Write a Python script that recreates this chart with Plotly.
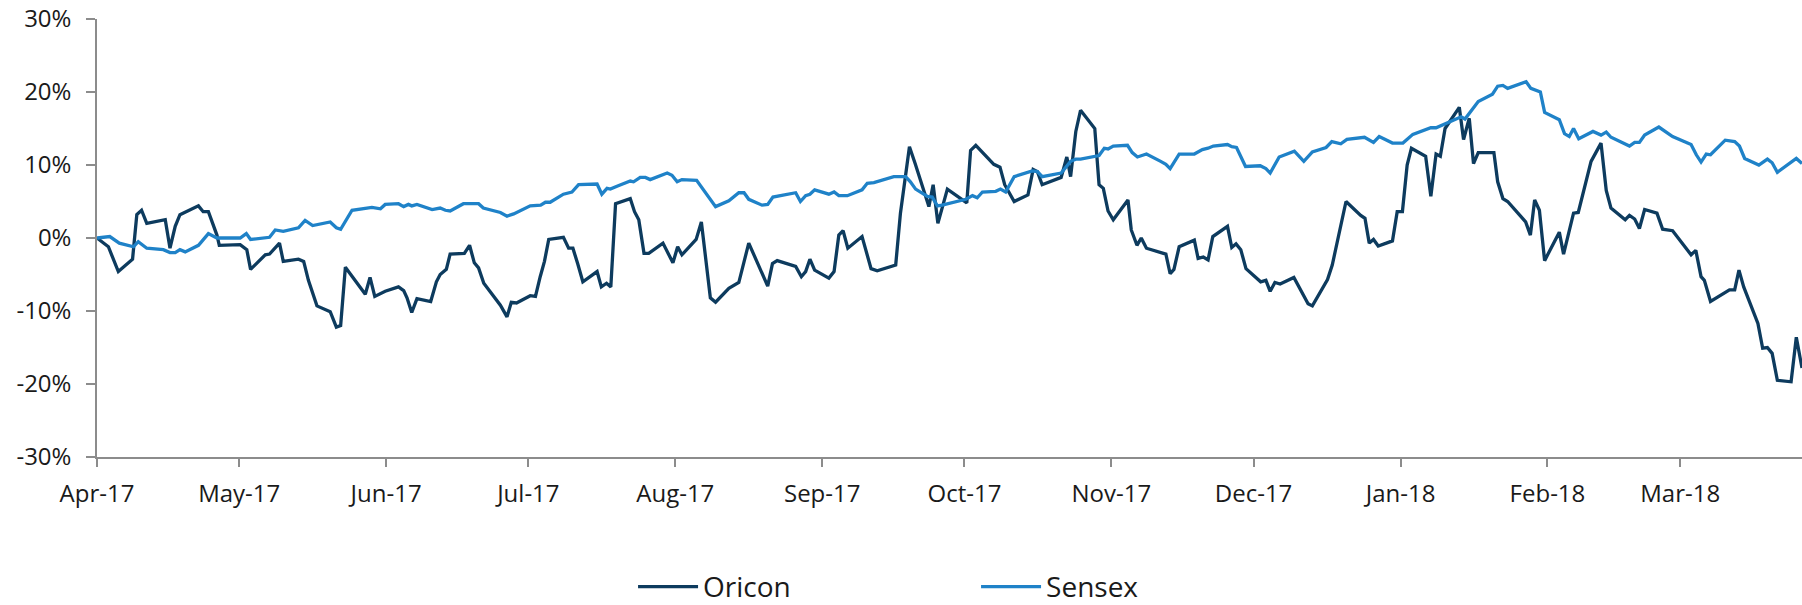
import plotly.graph_objects as go
import pandas as pd

START_DATE = "2017-04-01"

# days after 1 Apr 2017 and % return
oricon_day = [0, 2.4, 4.5, 7.5, 8.4, 9.4, 10.5, 14.4, 15.4, 16.5, 17.5, 21.4, 22.4, 23.5, 25.3, 25.8,
              30.2, 31.6, 32.4, 35.5, 36.4, 38.5, 39.3, 42.5, 43.6, 44.6, 46.4, 49.2, 50.5, 51.4, 52.4,
              56.6, 57.6, 58.6, 60.8, 63.6, 64.7, 65.4, 66.4, 67.5, 70.4, 71.6, 72.4, 73.7, 74.5, 77.5,
              78.6, 79.6, 80.5, 81.6, 85.1, 86.5, 87.4, 88.5, 91.4, 92.5, 93.5, 94.4, 95.3, 98.4, 99.5,
              100.4, 101.4, 102.5, 105.5, 106.4, 107.5, 108.4, 109.4, 112.5, 113.4, 114.3, 115.4, 116.4,
              119.4, 121.5, 122.5, 123.4, 126.4, 127.5, 129.4, 130.5, 133.3, 135.4, 137.5, 141.5, 142.5,
              143.5, 147.4, 148.6, 149.5, 150.4, 151.4, 154.4, 155.5, 156.5, 157.4, 158.4, 161.4, 163.3,
              164.6, 168.5, 169.5, 171.4, 172.6, 175.5, 176.4, 177.4, 179.4, 183.5, 184.3, 185.4, 189.2,
              190.5, 191.5, 193.5, 196.4, 197.5, 198.4, 199.4, 203.4, 204.6, 205.4, 206.5, 207.5, 210.5,
              211.4, 212.3, 213.3, 214.4, 217.5, 218.2, 219.4, 220.3, 221.4, 224.1, 225.5, 226.4, 227.2,
              228.3, 231.5, 232.3, 233.4, 234.4, 235.4, 238.5, 239.4, 240.3, 241.3, 242.4, 245.5, 246.6,
              247.5, 248.5, 249.6, 252.5, 253.9, 255.5, 256.4, 259.6, 260.6, 261.4, 262.4, 263.5, 266.6,
              267.5, 268.4, 269.3, 270.3, 273.3, 274.3, 275.4, 276.4, 277.3, 280.3, 281.4, 282.5, 283.4,
              284.4, 287.4, 288.3, 289.5, 290.4, 291.4, 294.7, 295.5, 296.6, 297.6, 301.4, 302.4, 303.3,
              304.3, 305.4, 308.5, 309.4, 311.5, 312.5, 315.2, 317.3, 318.4, 319.4, 322.4, 323.3, 324.4,
              325.4, 326.5, 329.1, 330.3, 332.4, 336.3, 337.3, 338.4, 339.1, 340.4, 344.4, 345.5, 346.4,
              347.4, 350.4, 351.4, 352.4, 353.4, 354.5, 357.4, 358.5, 359.7]
oricon_pct = [0.0, -1.2, -4.6, -2.9, 3.2, 3.8, 2.0, 2.5, -1.4, 1.6, 3.2, 4.4, 3.6, 3.6, 0.4, -1.0,
              -0.9, -1.6, -4.3, -2.3, -2.2, -0.7, -3.2, -2.9, -3.2, -5.8, -9.3, -10.1, -12.2, -12.0, -4.0,
              -7.7, -5.4, -8.0, -7.3, -6.7, -7.2, -8.2, -10.2, -8.3, -8.7, -6.0, -5.0, -4.3, -2.2, -2.1,
              -1.0, -3.4, -4.1, -6.2, -9.2, -10.8, -8.8, -8.9, -7.9, -8.0, -5.3, -3.2, -0.2, 0.1, -1.4,
              -1.4, -3.5, -6.0, -4.6, -6.7, -6.2, -6.7, 4.7, 5.4, 3.6, 2.5, -2.1, -2.1,
              -0.7, -3.4, -1.2, -2.3, -0.2, 2.2, -8.2, -8.8, -6.9, -6.1, -0.7, -6.6, -3.5,
              -3.1, -3.9, -5.3, -4.6, -2.9, -4.4, -5.5, -4.6, 0.4, 1.0, -1.4, 0.2, -4.2,
              -4.5, -3.7, 3.4, 12.5, 10.2, 4.3, 7.3, 2.0, 6.7, 4.8, 12.0, 12.7, 10.1,
              9.7, 7.3, 5.0, 5.9, 9.4, 9.1, 7.3, 8.3, 11.1, 8.4, 14.6, 17.5, 15.0,
              7.3, 6.8, 3.7, 2.5, 5.2, 1.1, -1.0, 0.0, -1.4, -2.0, -2.2, -4.9, -4.3,
              -1.2, -0.3, -2.8, -2.6, -3.0, 0.2, 1.6, -1.3, -0.8, -1.6, -4.2, -6.0, -5.8,
              -7.3, -6.1, -6.3, -5.4, -7.1, -9.0, -9.3, -5.7, -3.7, -1.2, 1.6, 5.0, 3.1,
              2.7, -0.7, -0.2, -1.1, -0.4, 3.6, 3.6, 10.0, 12.3, 11.2, 5.7, 11.5, 11.2,
              15.0, 17.9, 13.5, 16.4, 10.2, 11.7, 11.7, 7.7, 5.4, 5.0, 2.2, 0.4, 5.2,
              3.8, -3.1, 0.8, -2.2, 3.4, 3.5, 10.5, 13.0, 6.5, 4.1, 2.5, 3.1, 2.6,
              1.3, 3.9, 3.4, 1.2, 1.0, -2.3, -1.7, -5.3, -5.8, -8.7, -7.1, -7.1, -4.4,
              -6.7, -11.7, -15.1, -15.0, -15.8, -19.5, -19.7, -13.6, -17.8]

sensex_day = [0, 2.7, 4.7, 7.7, 8.7, 10.5, 14.0, 15.4, 16.5, 17.5, 18.6, 21.4, 23.5, 25.3, 30.2, 31.5,
              32.4, 36.4, 37.6, 38.6, 39.3, 42.5, 43.9, 45.5, 49.2, 50.5, 51.4, 53.8, 57.0, 58.0, 59.8,
              60.8, 63.6, 64.7, 65.7, 66.4, 67.5, 70.7, 72.4, 73.5, 74.5, 77.3, 80.5, 81.5, 85.1, 86.5,
              87.9, 91.4, 93.6, 94.6, 95.6, 98.4, 100.2, 101.6, 105.5, 106.5, 107.6, 108.3, 109.7, 112.5,
              113.2, 114.6, 115.7, 116.7, 120.3, 121.3, 122.4, 123.4, 126.5, 128.7, 130.5, 133.3, 135.4,
              136.5, 137.5, 140.3, 141.5, 142.6, 147.4, 148.4, 149.5, 150.4, 151.4, 154.4, 155.5, 156.5,
              158.3, 161.4, 162.5, 163.9, 168.1, 170.6, 171.6, 172.7, 175.2, 176.2, 177.3, 178.3, 183.3,
              184.7, 185.7, 186.8, 189.6, 190.6, 191.7, 193.5, 197.3, 198.4, 199.4, 203.4, 205.4, 206.5,
              207.5, 211.4, 212.5, 213.3, 214.4, 217.4, 218.4, 219.5, 221.4, 224.4, 225.5, 226.4, 228.3,
              231.5, 233.2, 234.4, 235.5, 238.5, 239.4, 240.4, 242.3, 245.4, 246.6, 247.5, 249.4, 252.6,
              254.6, 256.4, 259.3, 260.5, 262.4, 263.7, 267.4, 269.3, 270.5, 273.3, 275.5, 277.6, 281.4,
              282.5, 285.0, 287.8, 288.6, 289.5, 291.4, 294.4, 295.5, 296.6, 297.6, 301.5, 302.5, 304.5,
              305.4, 308.5, 309.6, 310.6, 311.5, 312.6, 315.6, 317.3, 318.4, 319.4, 323.3, 324.4, 325.4,
              326.5, 329.5, 332.4, 336.3, 337.4, 338.4, 339.5, 340.4, 343.5, 345.5, 346.5, 347.6, 350.6,
              352.4, 353.4, 354.5, 358.5, 359.7]
sensex_pct = [0.0, 0.2, -0.7, -1.2, -0.5, -1.4, -1.6, -2.0, -2.0, -1.6, -1.9, -1.0, 0.6, 0.0, 0.0, 0.6,
              -0.2, 0.1, 1.1, 1.0, 0.9, 1.4, 2.4, 1.7, 2.2, 1.4, 1.2, 3.8, 4.1, 4.2, 4.0,
              4.6, 4.7, 4.3, 4.6, 4.4, 4.6, 3.9, 4.1, 3.8, 3.7, 4.7, 4.7, 4.1, 3.5, 3.0,
              3.3, 4.4, 4.5, 4.9, 4.9, 6.0, 6.3, 7.3, 7.4, 6.0, 6.8, 6.7, 7.1, 7.8,
              7.7, 8.3, 8.3, 8.0, 8.9, 8.6, 7.7, 8.0, 7.9, 5.9, 4.3, 5.1, 6.2,
              6.2, 5.3, 4.5, 4.6, 5.6, 6.2, 5.0, 5.8, 6.0, 6.6, 6.0, 6.3, 5.8,
              5.8, 6.6, 7.5, 7.6, 8.4, 8.4, 7.7, 6.7, 5.7, 5.6, 4.4, 4.5, 5.3,
              5.8, 5.5, 6.3, 6.4, 6.7, 6.3, 8.4, 9.2, 9.1, 8.4, 8.9, 10.5, 10.8,
              10.8, 11.3, 12.3, 12.2, 12.6, 12.7, 11.7, 11.1, 11.5, 10.5, 10.1, 9.5, 11.5,
              11.5, 12.1, 12.3, 12.6, 12.8, 12.5, 12.4, 9.8, 9.9, 9.5, 8.9, 11.1, 11.9,
              10.5, 11.8, 12.4, 13.2, 12.9, 13.5, 13.8, 13.1, 13.9, 13.0, 13.0, 14.2, 15.1,
              15.1, 15.8, 16.6, 16.3, 17.1, 18.7, 19.7, 20.8, 20.9, 20.5, 21.4, 20.5, 20.0,
              17.2, 16.2, 14.3, 13.9, 15.0, 13.6, 14.6, 14.1, 14.5, 13.8, 12.6, 13.1, 13.1,
              14.1, 15.2, 13.9, 12.8, 11.4, 10.4, 11.5, 11.4, 13.4, 13.2, 12.6, 10.9, 10.0,
              10.8, 10.3, 9.0, 10.9, 10.2]

y_tick_vals = [-30, -20, -10, 0, 10, 20, 30]
y_tick_text = ["-30%", "-20%", "-10%", "0%", "10%", "20%", "30%"]

ORICON_COLOR = "#0D3B5E"
SENSEX_COLOR = "#1F82C8"
AXIS_COLOR = "#8C8C8C"
FONT = dict(family="Open Sans, Lato, sans-serif", size=24, color="#1A1A1A")


def to_dates(days):
    return pd.Timestamp(START_DATE) + pd.to_timedelta(days, unit="D")


oricon_x = to_dates(oricon_day)
sensex_x = to_dates(sensex_day)

fig = go.Figure()
fig.add_trace(go.Scatter(x=oricon_x, y=oricon_pct, name="Oricon", mode="lines",
                         line=dict(color=ORICON_COLOR, width=3.3)))
fig.add_trace(go.Scatter(x=sensex_x, y=sensex_pct, name="Sensex", mode="lines",
                         line=dict(color=SENSEX_COLOR, width=3.3)))

# figure is a bit taller than the window so the legend can sit near the bottom edge
fig.update_layout(
    width=1802,
    height=630,
    margin=dict(l=97, r=0, t=19, b=173),
    plot_bgcolor="white",
    paper_bgcolor="white",
    font=FONT,
    legend=dict(
        orientation="h",
        x=0.3144,
        xanchor="left",
        y=-0.2965,
        yanchor="middle",
        entrywidth=268,
        itemwidth=60,
        font=dict(size=28),
    ),
)
fig.update_xaxes(
    type="date",
    range=[pd.Timestamp(START_DATE), max(oricon_x[-1], sensex_x[-1])],
    tick0=START_DATE,
    dtick="M1",
    tickformat="%b-%y",
    showgrid=False,
    zeroline=False,
    showline=True,
    linecolor=AXIS_COLOR,
    linewidth=1.5,
    ticks="outside",
    ticklen=8,
    tickcolor=AXIS_COLOR,
    tickwidth=1.5,
    ticklabelstandoff=6,
    automargin=False,
)
fig.update_yaxes(
    range=[-30, 30],
    tickvals=y_tick_vals,
    ticktext=y_tick_text,
    showgrid=False,
    zeroline=False,
    showline=True,
    linecolor=AXIS_COLOR,
    linewidth=1.5,
    ticks="outside",
    ticklen=9,
    tickcolor=AXIS_COLOR,
    tickwidth=1.5,
    ticklabelstandoff=10,
    automargin=False,
)

# drop the default 8px page margin and scrollbars so the figure fills the window
fig.write_html("out.html", config={"displayModeBar": False},
               post_script="document.body.style.margin = '0'; document.body.style.overflow = 'hidden';")
